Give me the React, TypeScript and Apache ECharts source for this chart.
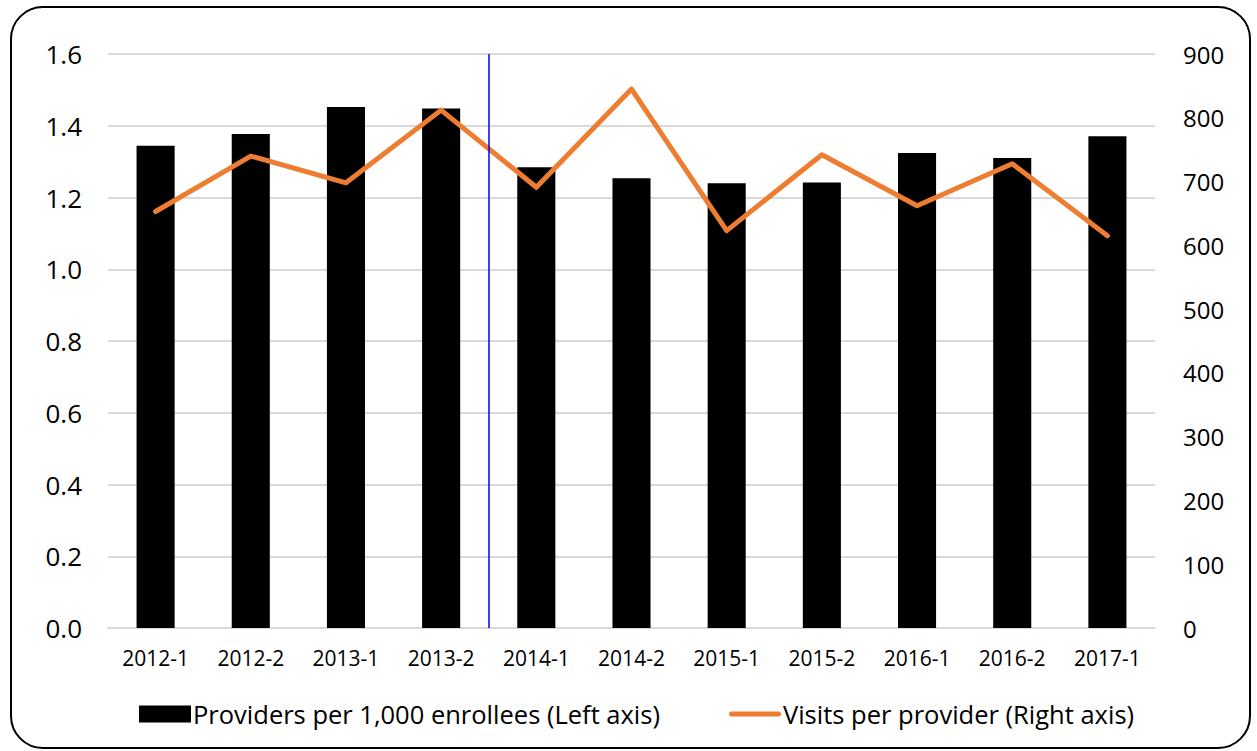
import React, { useEffect, useRef } from "react";
import * as echarts from "echarts";

// Half-year periods on the x axis
const periods = [
  "2012-1", "2012-2", "2013-1", "2013-2", "2014-1", "2014-2",
  "2015-1", "2015-2", "2016-1", "2016-2", "2017-1",
];

// Providers per 1,000 enrollees (left axis)
const providersPer1000 = [
  1.344, 1.377, 1.452, 1.448, 1.284, 1.254, 1.24, 1.242, 1.324, 1.31, 1.371,
];

// Visits per provider (right axis)
const visitsPerProvider = [
  653, 740, 698, 812, 691, 845, 623, 742, 662, 728, 615,
];

// Policy break drawn between 2013-2 and 2014-1 (category index 3.5)
const breakPosition = [3.5];

const leftTicks = { min: 0, max: 1.6, interval: 0.2 };
const rightTicks = { min: 0, max: 900, interval: 100 };

const FONT = "'Open Sans', 'Noto Sans', sans-serif";

// Thick rounded stroke used as the line series' legend key; the leading
// move-to points pin the icon's box to the full 52x17 legend cell.
const LINE_KEY =
  "path://M0,0M52,17M2.5,6L49.5,6A2.5,2.5,0,0,1,49.5,11L2.5,11A2.5,2.5,0,0,1,2.5,6Z";

export default function App() {
  const ref = useRef<HTMLDivElement>(null);

  useEffect(() => {
    document.body.style.margin = "0";
    if (!ref.current) return;
    const chart = echarts.init(ref.current, undefined, { renderer: "svg" });

    chart.setOption({
      animation: false,
      backgroundColor: "#ffffff",
      textStyle: { fontFamily: FONT, color: "#000000" },
      grid: { left: 108, right: 102, top: 54, bottom: 123, containLabel: false },
      legend: {
        left: 134,
        top: 696,
        itemGap: 69,
        textStyle: { fontFamily: FONT, fontSize: 25.5, color: "#000000", padding: [0, 0, 0, -3] },
        data: [
          { name: "Providers per 1,000 enrollees (Left axis)", icon: "rect", itemStyle: { color: "#000000" } },
          { name: "Visits per provider (Right axis)", icon: LINE_KEY, itemStyle: { color: "#ED7D31" } },
        ],
        itemWidth: 52,
        itemHeight: 17,
      },
      xAxis: [
        {
          type: "category",
          data: periods,
          axisLine: { show: true, lineStyle: { color: "#D9D9D9", width: 2 } },
          axisTick: { show: false },
          axisLabel: { fontFamily: FONT, fontSize: 21, color: "#000000", margin: 19 },
        },
        {
          type: "value",
          min: -0.5,
          max: periods.length - 0.5,
          show: false,
        },
      ],
      yAxis: [
        {
          type: "value",
          min: leftTicks.min,
          max: leftTicks.max,
          interval: leftTicks.interval,
          axisLine: { show: false },
          axisTick: { show: false },
          axisLabel: {
            fontFamily: FONT,
            fontSize: 26,
            color: "#000000",
            margin: 26,
            formatter: (v: number) => v.toFixed(1),
          },
          splitLine: { lineStyle: { color: "#D9D9D9", width: 2 } },
        },
        {
          type: "value",
          min: rightTicks.min,
          max: rightTicks.max,
          interval: rightTicks.interval,
          axisLine: { show: false },
          axisTick: { show: false },
          axisLabel: { fontFamily: FONT, fontSize: 24, color: "#000000", margin: 28 },
          splitLine: { show: false },
        },
      ],
      series: [
        {
          name: "Providers per 1,000 enrollees (Left axis)",
          type: "bar",
          data: providersPer1000,
          barWidth: "40%",
          itemStyle: { color: "#000000" },
          xAxisIndex: 0,
          yAxisIndex: 0,
          z: 2,
        },
        {
          name: "Visits per provider (Right axis)",
          type: "line",
          data: visitsPerProvider,
          xAxisIndex: 0,
          yAxisIndex: 1,
          symbol: "none",
          lineStyle: { color: "#ED7D31", width: 5, cap: "round", join: "round" },
          itemStyle: { color: "#ED7D31" },
          z: 4,
        },
        {
          type: "line",
          data: [],
          xAxisIndex: 1,
          yAxisIndex: 0,
          silent: true,
          markLine: {
            silent: true,
            symbol: "none",
            label: { show: false },
            lineStyle: { color: "#0000EE", width: 1.5, type: "solid" },
            data: breakPosition.map((x) => ({ xAxis: x })),
          },
          z: 3,
        },
      ],
      graphic: [
        {
          type: "rect",
          shape: { x: 11, y: 7, width: 1239, height: 741, r: 32 },
          style: { fill: "none", stroke: "#000000", lineWidth: 2 },
          silent: true,
          z: 10,
        },
      ],
    });

    return () => chart.dispose();
  }, []);

  return <div ref={ref} style={{ width: 1257, height: 751 }} />;
}
